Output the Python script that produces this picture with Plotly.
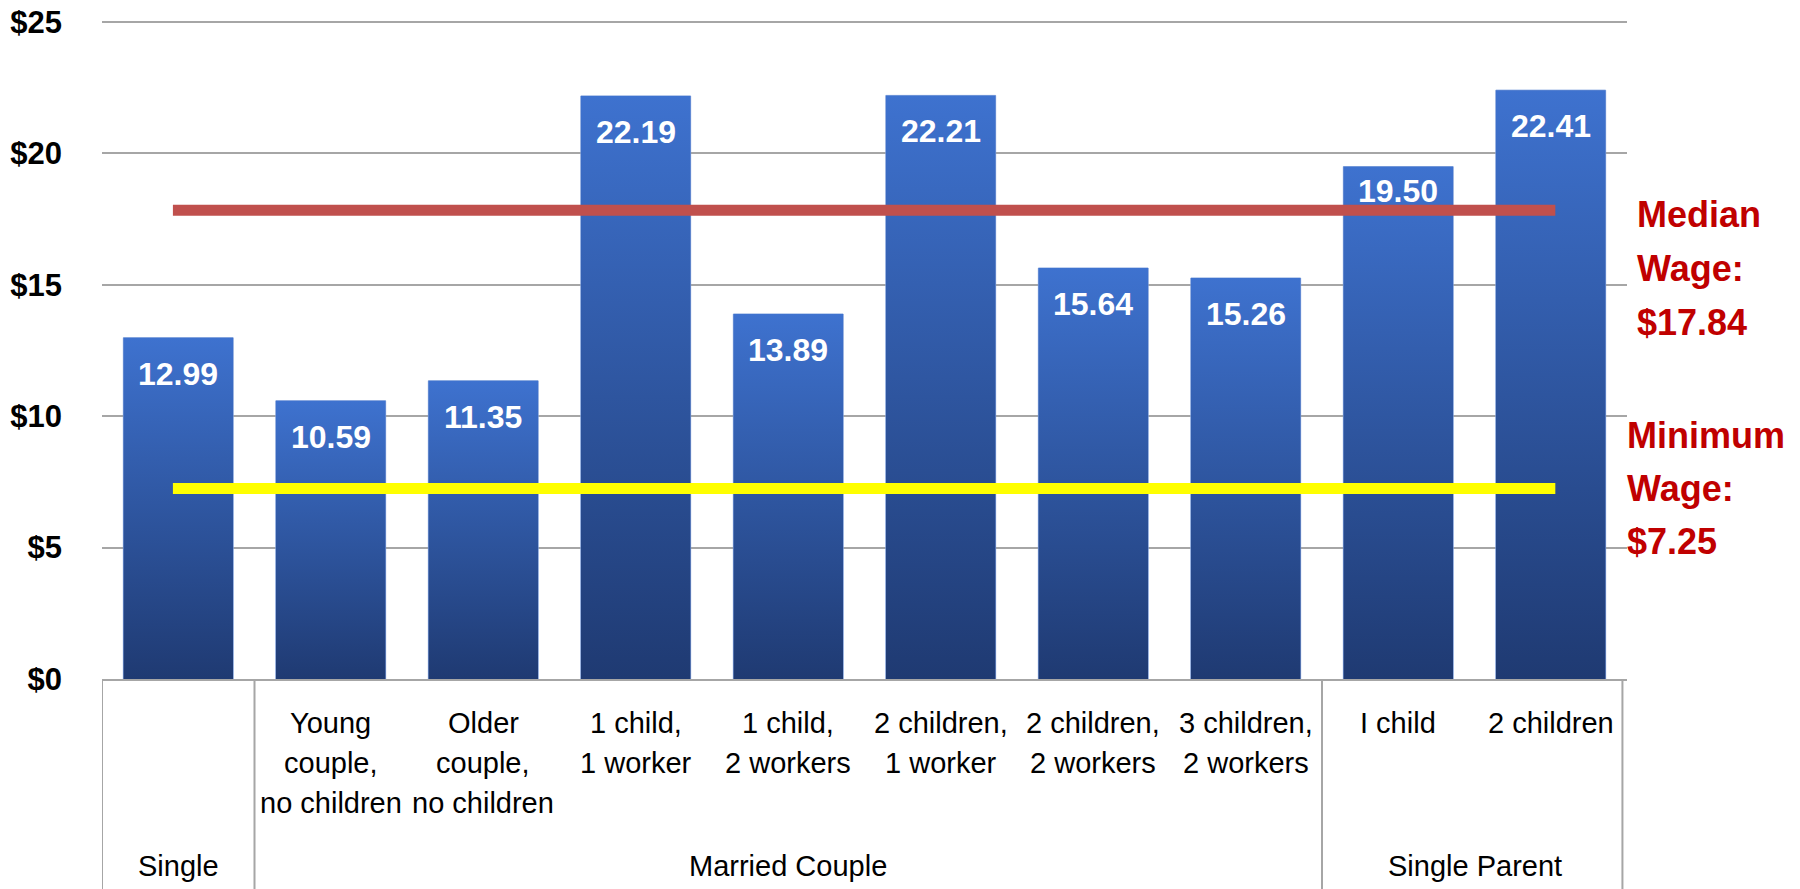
import base64
import plotly.graph_objects as go

# ---------------- data ----------------
groups = ["Single", "Married Couple", "Single Parent"]
group_spans = [(0, 0), (1, 7), (8, 9)]          # first/last bar index of each group
sub_labels = [
    "",
    "Young<br>couple,<br>no children",
    "Older<br>couple,<br>no children",
    "1 child,<br>1 worker",
    "1 child,<br>2 workers",
    "2 children,<br>1 worker",
    "2 children,<br>2 workers",
    "3 children,<br>2 workers",
    "I child",
    "2 children",
]
wages = [12.99, 10.59, 11.35, 22.19, 13.89, 22.21, 15.64, 15.26, 19.50, 22.41]
median_wage = 17.84
minimum_wage = 7.25
y_ticks = [0, 5, 10, 15, 20, 25]

# ---------------- style ----------------
SANS = "Liberation Sans, Arial, sans-serif"
BAR_W = 0.72
GRID = "#a6a6a6"
TOP_C = "rgb(62,114,207)"
BOT_C = "rgb(31,58,114)"
RED_TXT = "#c00000"
label_shift = {8: -24}  # hand-placed label in the original

idx = list(range(len(wages)))


def gradient_src(top, bottom):
    svg = (
        '<svg xmlns="http://www.w3.org/2000/svg" width="10" height="100" '
        'viewBox="0 0 10 100" preserveAspectRatio="none">'
        '<defs><linearGradient id="g" x1="0" y1="0" x2="0" y2="1">'
        f'<stop offset="0" stop-color="{top}"/><stop offset="1" stop-color="{bottom}"/>'
        '</linearGradient></defs><rect width="10" height="100" fill="url(#g)"/></svg>'
    )
    return "data:image/svg+xml;base64," + base64.b64encode(svg.encode()).decode()


src = gradient_src(TOP_C, BOT_C)

fig = go.Figure()
fig.add_trace(
    go.Bar(
        x=idx,
        y=wages,
        width=BAR_W,
        marker=dict(color="rgb(45,85,165)", line=dict(color="#7d9fdc", width=1)),
        hoverinfo="y",
        showlegend=False,
    )
)

# vertical gradient overlay for each bar, positioned in data coordinates
images = []
for i, v in zip(idx, wages):
    images.append(
        dict(source=src, xref="x", yref="y", x=i, y=0, sizex=BAR_W, sizey=v,
             xanchor="center", yanchor="bottom", sizing="stretch", layer="above")
    )

shapes = []
# reference lines (median / minimum wage) spanning first..last category
shapes.append(dict(type="line", xref="x", yref="y", x0=idx[0] - 0.035, x1=idx[-1] + 0.03,
                   y0=median_wage, y1=median_wage,
                   line=dict(color="#c0504d", width=11), layer="above"))
shapes.append(dict(type="line", xref="x", yref="y", x0=idx[0] - 0.035, x1=idx[-1] + 0.03,
                   y0=minimum_wage, y1=minimum_wage,
                   line=dict(color="#ffff00", width=11), layer="above"))
# category table dividers
for (a, b) in group_spans:
    shapes.append(dict(type="line", xref="x", yref="paper", x0=a - 0.5, x1=a - 0.5,
                       y0=0, y1=-0.4, line=dict(color=GRID, width=2)))
shapes.append(dict(type="line", xref="x", yref="paper", x0=idx[-1] + 0.47, x1=idx[-1] + 0.47,
                   y0=0, y1=-0.4, line=dict(color=GRID, width=2)))

annotations = []
# value labels inside the bar tops
for i, v in zip(idx, wages):
    annotations.append(dict(x=i, y=v, xref="x", yref="y", text=f"{v:.2f}",
                            showarrow=False, yanchor="middle",
                            yshift=label_shift.get(i, -36),
                            font=dict(family=SANS, size=32, color="white", weight="bold")))
# sub-category labels (one annotation per line for PowerPoint-like spacing)
ROW_SHIFTS = [-44, -84, -124]
for i, lab in zip(idx, sub_labels):
    if lab:
        for k, line in enumerate(lab.split("<br>")):
            annotations.append(dict(x=i, y=0, xref="x", yref="paper", text=line,
                                    showarrow=False, yanchor="middle", yshift=ROW_SHIFTS[k],
                                    font=dict(family=SANS, size=29, color="black")))
# group labels
for g, (a, b) in zip(groups, group_spans):
    annotations.append(dict(x=(a + b) / 2, y=0, xref="x", yref="paper", text=g,
                            showarrow=False, yanchor="middle", yshift=-187,
                            font=dict(family=SANS, size=29, color="black")))

# right-hand notes
med_lines = ["Median", "Wage:", f"${median_wage:.2f}"]
for line, sh in zip(med_lines, [-4, -58, -112]):
    annotations.append(dict(x=1.0052, xref="paper", y=median_wage, yref="y", text=line,
                            showarrow=False, xanchor="left", yanchor="middle", yshift=sh,
                            font=dict(family=SANS, size=36, color=RED_TXT, weight="bold")))
min_lines = ["Minimum", "Wage:", f"${minimum_wage:.2f}"]
for line, sh in zip(min_lines, [53, 0, -53]):
    annotations.append(dict(x=0.9987, xref="paper", y=minimum_wage, yref="y", text=line,
                            showarrow=False, xanchor="left", yanchor="middle", yshift=sh,
                            font=dict(family=SANS, size=36, color=RED_TXT, weight="bold")))

fig.update_layout(
    width=1800,
    height=889,
    margin=dict(l=102, r=173, t=20, b=210, autoexpand=False),
    paper_bgcolor="white",
    plot_bgcolor="white",
    images=images,
    shapes=shapes,
    annotations=annotations,
    showlegend=False,
    bargap=1 - BAR_W,
)
fig.update_xaxes(range=[-0.5, len(wages) - 0.5], showticklabels=False, showgrid=False,
                 zeroline=False, showline=True, linecolor=GRID, linewidth=2, ticks="",
                 automargin=False)
fig.update_yaxes(range=[0, 25.08], tickvals=y_ticks, ticktext=[f"${t}" for t in y_ticks],
                 showgrid=True, gridcolor=GRID, gridwidth=1.5, zeroline=False,
                 showline=False, ticks="", ticklabelstandoff=39, ticklabeloverflow="allow",
                 automargin=False,
                 tickfont=dict(family=SANS, size=31, color="black", weight="bold"))

# remove the browser's default body margin so the figure fills the window exactly
fig.write_html("out.html", config={"displayModeBar": False},
               post_script="document.body.style.margin='0';")
